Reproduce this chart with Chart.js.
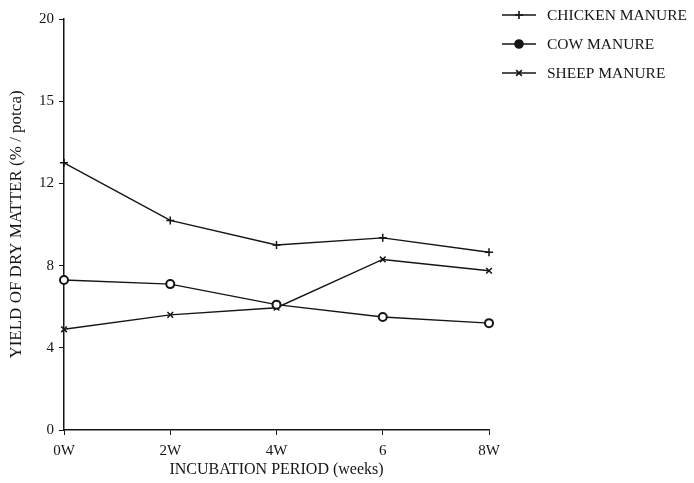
<!DOCTYPE html>
<html>
<head>
<meta charset="utf-8">
<script src="https://cdn.jsdelivr.net/npm/chart.js@4.4.1/dist/chart.umd.min.js"></script>
<style>
    body { margin: 0; background: #fff; }
    #wrap { width: 694px; height: 483px; }
</style>
</head>
<body>
<div id="wrap"><canvas id="lineChart" width="694" height="483"></canvas></div>
<script>
// values
const weeks = ['0W', '2W', '4W', '6', '8W'];
const chicken = [13.0, 10.2, 9.0, 9.35, 8.65];
const cow = [7.3, 7.1, 6.1, 5.5, 5.2];
const sheep = [4.9, 5.6, 5.95, 8.3, 7.75];
// the printed tick labels (the original prints 15 where 16 would be)
const yTickLabels = ['0', '4', '8', '12', '15', '20'];

const ink = '#151515';
const serif = '"Liberation Serif", "DejaVu Serif", serif';

function series(label, data, style, radius) {
    return {
        label: label,
        data: data,
        borderColor: ink,
        backgroundColor: style === 'circle' ? '#fff' : ink,
        borderWidth: 1.4,
        pointStyle: style,
        pointRadius: radius,
        pointBorderWidth: style === 'circle' ? 2 : 1.5,
        tension: 0
    };
}

// legend drawn by hand: line with the marker in the middle, like the original
const sideLegend = {
    id: 'sideLegend',
    afterDraw(chart) {
        const ctx = chart.ctx;
        ctx.save();
        chart.data.datasets.forEach((ds, i) => {
            const y = 15 + i * 29;
            ctx.strokeStyle = ink;
            ctx.lineWidth = 1.6;
            ctx.beginPath();
            ctx.moveTo(502, y);
            ctx.lineTo(536, y);
            ctx.stroke();
            Chart.helpers.drawPoint(ctx, {
                pointStyle: ds.pointStyle,
                radius: ds.pointRadius,
                borderWidth: ds.pointBorderWidth
            }, 519, y);
            ctx.fillStyle = ink;
            ctx.font = '15.5px ' + serif;
            ctx.textBaseline = 'middle';
            ctx.fillText(ds.label, 547, y + 1);
        });
        ctx.restore();
    }
};

function createLineChart() {
    const ctx = document.getElementById('lineChart').getContext('2d');
    Chart.defaults.font.family = serif;
    Chart.defaults.color = ink;
    new Chart(ctx, {
        type: 'line',
        data: {
            labels: weeks,
            datasets: [
                series('CHICKEN MANURE', chicken, 'cross', 4),
                series('COW MANURE', cow, 'circle', 4),
                series('SHEEP MANURE', sheep, 'crossRot', 4)
            ]
        },
        options: {
            responsive: false,
            animation: false,
            layout: { padding: { left: 2, right: 205, top: 19, bottom: 0 } },
            plugins: {
                legend: { display: false },
                tooltip: { enabled: false }
            },
            scales: {
                x: {
                    offset: false,
                    grid: { drawOnChartArea: false, tickLength: 5, color: ink },
                    border: { color: ink, width: 1.5 },
                    ticks: { font: { size: 15 }, padding: 7, maxRotation: 0 },
                    title: {
                        display: true,
                        text: 'INCUBATION PERIOD (weeks)',
                        font: { size: 16 },
                        padding: { top: 5 }
                    },
                    afterFit: s => { s.height = 53; }
                },
                y: {
                    min: 0,
                    max: 20,
                    grid: { drawOnChartArea: false, tickLength: 5, color: ink },
                    border: { color: ink, width: 1.5 },
                    ticks: {
                        stepSize: 4,
                        font: { size: 15 },
                        padding: 5,
                        callback: (v, i) => yTickLabels[i]
                    },
                    title: {
                        display: true,
                        text: 'YIELD OF DRY MATTER (% / potca)',
                        font: { size: 17 },
                        padding: { bottom: 2 }
                    },
                    afterFit: s => { s.width = 62; }
                }
            }
        },
        plugins: [sideLegend]
    });
}

document.addEventListener('DOMContentLoaded', createLineChart);
</script>
</body>
</html>
